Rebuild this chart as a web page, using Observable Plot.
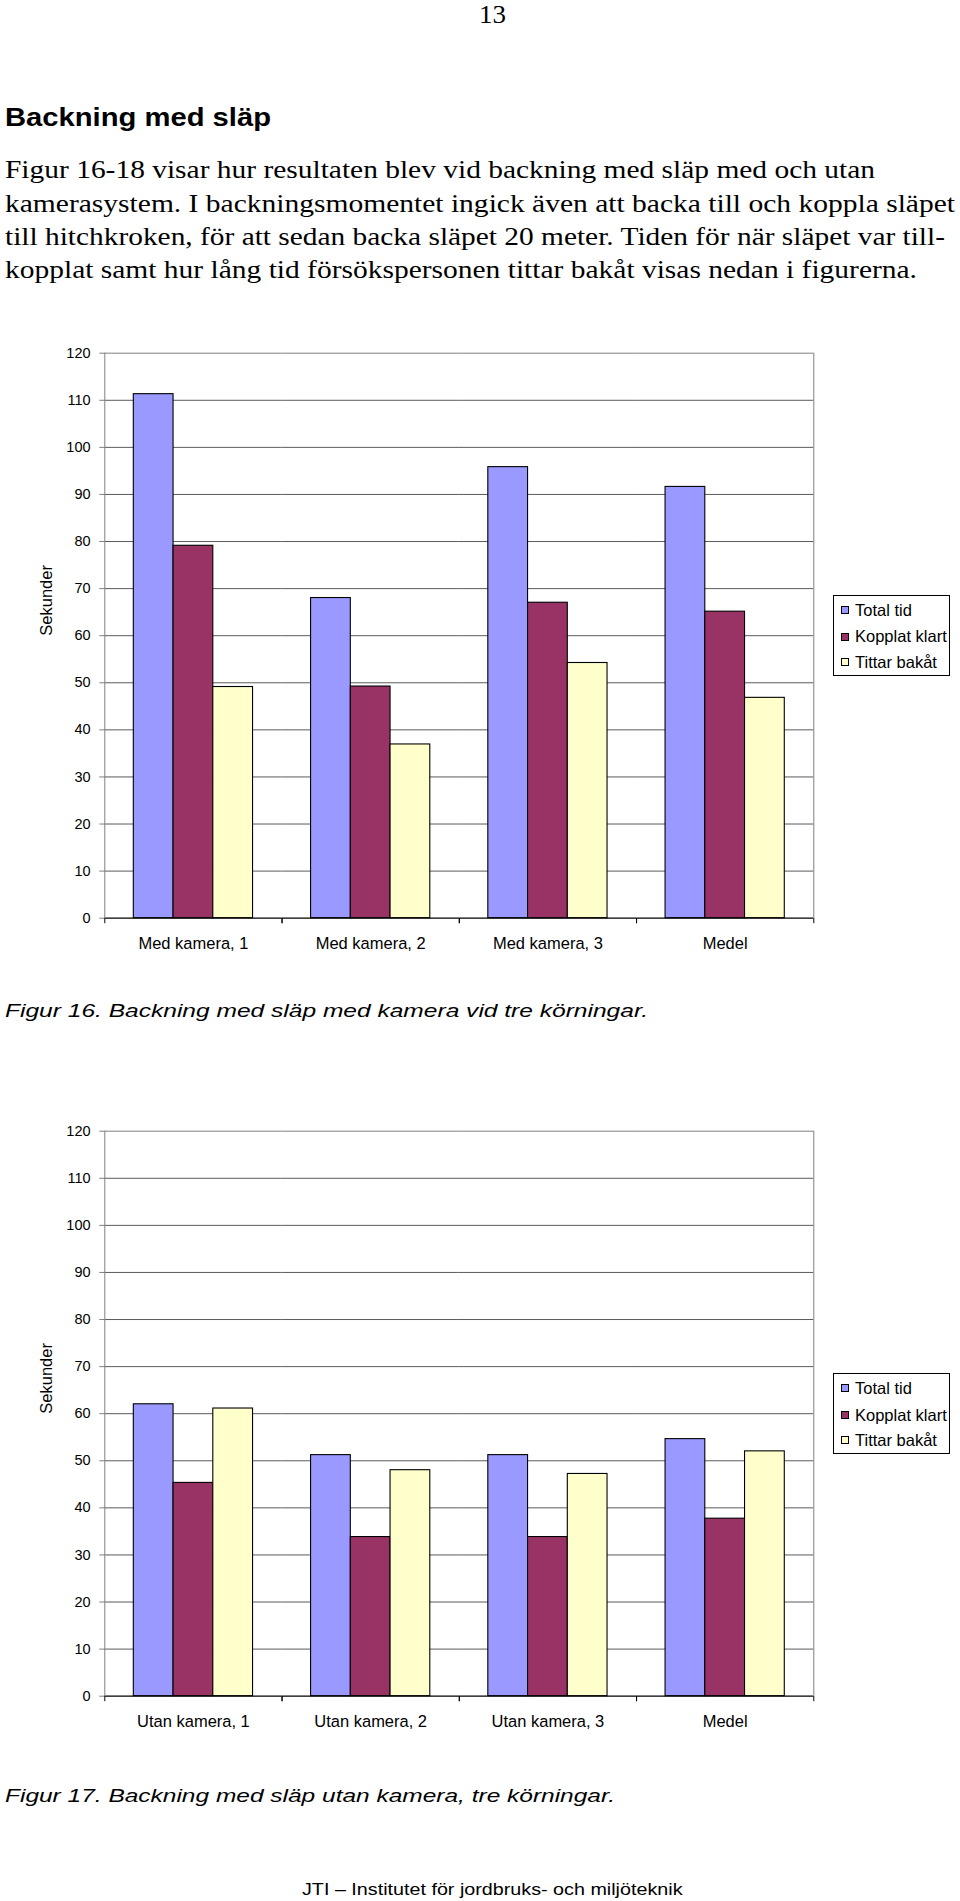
<!DOCTYPE html>
<html>
<head>
<meta charset="utf-8">
<script src="https://cdn.jsdelivr.net/npm/d3@7"></script>
<script src="https://cdn.jsdelivr.net/npm/@observablehq/plot@0.6"></script>
<style>
  html, body { margin: 0; padding: 0; background: #fff; }
  #page { position: relative; width: 960px; height: 1901px; overflow: hidden; background: #fff; }
  .chartbox { position: absolute; left: 0; }
  .legend { position: absolute; border: 1px solid #000; background: #fff; box-sizing: border-box;
            font-family: 'Liberation Sans', Arial, sans-serif; font-size: 16.5px; color: #000; }
  .legend .sw { position: absolute; width: 8px; height: 8px; box-sizing: border-box; border: 1px solid #000; }
  .legend .lab { position: absolute; line-height: 1; white-space: nowrap; }
</style>
</head>
<body>
<div id="page"></div>
<script>
// ---------------- data ----------------
const pageNumber = "13";
const heading = "Backning med släp";
const bodyLines = [
  "Figur 16-18 visar hur resultaten blev vid backning med släp med och utan",
  "kamerasystem. I backningsmomentet ingick även att backa till och koppla släpet",
  "till hitchkroken, för att sedan backa släpet 20 meter. Tiden för när släpet var till-",
  "kopplat samt hur lång tid försökspersonen tittar bakåt visas nedan i figurerna."
];
const caption1 = "Figur 16. Backning med släp med kamera vid tre körningar.";
const caption2 = "Figur 17. Backning med släp utan kamera, tre körningar.";
const footer = "JTI – Institutet för jordbruks- och miljöteknik";

const yLabel = "Sekunder";
const yTicks = [0, 10, 20, 30, 40, 50, 60, 70, 80, 90, 100, 110, 120];
const series = ["Total tid", "Kopplat klart", "Tittar bakåt"];
const seriesColors = ["#9999FF", "#993366", "#FFFFCC"];

const categories1 = ["Med kamera, 1", "Med kamera, 2", "Med kamera, 3", "Medel"];
const totalTid1 = [111.3, 68.0, 95.8, 91.6];
const kopplatKlart1 = [79.1, 49.2, 67.0, 65.1];
const tittarBakat1 = [49.1, 36.9, 54.2, 46.8];

const categories2 = ["Utan kamera, 1", "Utan kamera, 2", "Utan kamera, 3", "Medel"];
const totalTid2 = [62.0, 51.2, 51.2, 54.6];
const kopplatKlart2 = [45.3, 33.8, 33.8, 37.7];
const tittarBakat2 = [61.1, 48.0, 47.2, 52.0];

// ---------------- layout ----------------
const page = document.getElementById("page");

function placeText(str, o) {
  const div = document.createElement("div");
  div.style.cssText = `position:absolute;left:${o.x}px;top:0;white-space:nowrap;` +
    `font-family:${o.font};font-size:${o.size}px;font-weight:${o.weight || "normal"};` +
    `font-style:${o.style || "normal"};line-height:1;transform-origin:0 0;color:#000;`;
  div.appendChild(document.createTextNode(str));
  const marker = document.createElement("span");
  marker.style.cssText = "display:inline-block;width:0;height:0;vertical-align:baseline;";
  div.appendChild(marker);
  page.appendChild(div);
  const r = div.getBoundingClientRect();
  const m = marker.getBoundingClientRect();
  const base = m.top - r.top;
  div.style.top = (o.baseline - base) + "px";
  if (o.width) div.style.transform = `scaleX(${o.width / r.width})`;
  return div;
}

const SERIF = "'Liberation Serif','Times New Roman',serif";
const SANS = "'Liberation Sans',Arial,sans-serif";

placeText(pageNumber, {x: 479, baseline: 23, width: 27, font: SERIF, size: 26});
placeText(heading, {x: 5, baseline: 126, width: 266, font: SANS, size: 26.5, weight: "bold"});
const bodyWidths = [870, 950, 940, 912];
bodyLines.forEach((t, i) =>
  placeText(t, {x: 5, baseline: 178.3 + i * 33.35, width: bodyWidths[i], font: SERIF, size: 24.5}));
placeText(caption1, {x: 5, baseline: 1017, width: 643, font: SANS, size: 19, style: "italic"});
placeText(caption2, {x: 5, baseline: 1801.5, width: 610, font: SANS, size: 19, style: "italic"});
placeText(footer, {x: 301.5, baseline: 1895, width: 380.5, font: SANS, size: 16.5});

// small downward tick symbol for category boundaries
const tickDown = {draw(ctx, size) { const l = Math.sqrt(size / Math.PI); ctx.moveTo(0, 0); ctx.lineTo(0, l); }};

function makeChart(categories, a, b, c) {
  const vals = [a, b, c];
  const rows = categories.flatMap((cat, i) => series.map((s, j) => ({cat, series: s, value: vals[j][i]})));
  return Plot.plot({
    width: 960,
    height: 632.7,
    marginLeft: 104.3,
    marginRight: 146.7,
    marginTop: 22.7,
    marginBottom: 45,
    style: {fontFamily: SANS, fontSize: "14px", color: "#000", background: "transparent", overflow: "visible"},
    fx: {domain: categories, padding: 0, round: false, label: null},
    x: {domain: series, paddingInner: 0, paddingOuter: 0.73, round: false, axis: null},
    y: {domain: [0, 120], label: null},
    color: {domain: series, range: seriesColors},
    marks: [
      Plot.ruleY(yTicks.filter(d => d > 0 && d < 120), {stroke: "#5a5a5a", strokeWidth: 1}),
      Plot.ruleY([120], {stroke: "#808080", strokeWidth: 1}),
      Plot.barY(rows, {fx: "cat", x: "series", y: "value", fill: "series", stroke: "#000", strokeWidth: 1.1}),
      Plot.ruleY([0], {stroke: "#000", strokeWidth: 1.3}),
      Plot.frame({anchor: "left", facetAnchor: "left", stroke: "#808080"}),
      Plot.frame({anchor: "right", facetAnchor: "right", stroke: "#808080"}),
      Plot.axisY({ticks: yTicks, tickSize: 5, tickPadding: 9.3, stroke: "#808080", fill: "#000", fontSize: 14.5, label: null}),
      Plot.text([yLabel], {text: d => d, frameAnchor: "left", facetAnchor: "left", rotate: -90, dx: -57.8, fontSize: 16.5, fill: "#000"}),
      Plot.axisFx({anchor: "bottom", tickSize: 0, tickPadding: 18.9, fontSize: 16.5, label: null, fill: "#000"}),
      Plot.dot([0], {frameAnchor: "bottom-left", symbol: tickDown, r: 5, stroke: "#000", strokeWidth: 1}),
      Plot.dot([0], {frameAnchor: "bottom-right", symbol: tickDown, r: 5, stroke: "#000", strokeWidth: 1})
    ]
  });
}

function makeLegend(top) {
  const lg = document.createElement("div");
  lg.className = "legend";
  lg.style.left = "833px";
  lg.style.top = top + "px";
  lg.style.width = "117px";
  lg.style.height = "81px";
  const centers = [15, 41.7, 67];
  series.forEach((s, i) => {
    const sw = document.createElement("div");
    sw.className = "sw";
    sw.style.background = seriesColors[i];
    sw.style.left = "7px";
    sw.style.top = (centers[i] - 4 - 1) + "px";
    lg.appendChild(sw);
    const lab = document.createElement("div");
    lab.className = "lab";
    lab.textContent = s;
    lab.style.left = "21px";
    lab.style.top = (centers[i] - 8.25 - 1) + "px";
    lg.appendChild(lab);
  });
  return lg;
}

function addChart(top, categories, a, b, c, legendTop) {
  const box = document.createElement("div");
  box.className = "chartbox";
  box.style.top = top + "px";
  box.appendChild(makeChart(categories, a, b, c));
  page.appendChild(box);
  page.appendChild(makeLegend(legendTop));
}

addChart(330, categories1, totalTid1, kopplatKlart1, tittarBakat1, 595);
addChart(1108.3, categories2, totalTid2, kopplatKlart2, tittarBakat2, 1373.3);
</script>
</body>
</html>
